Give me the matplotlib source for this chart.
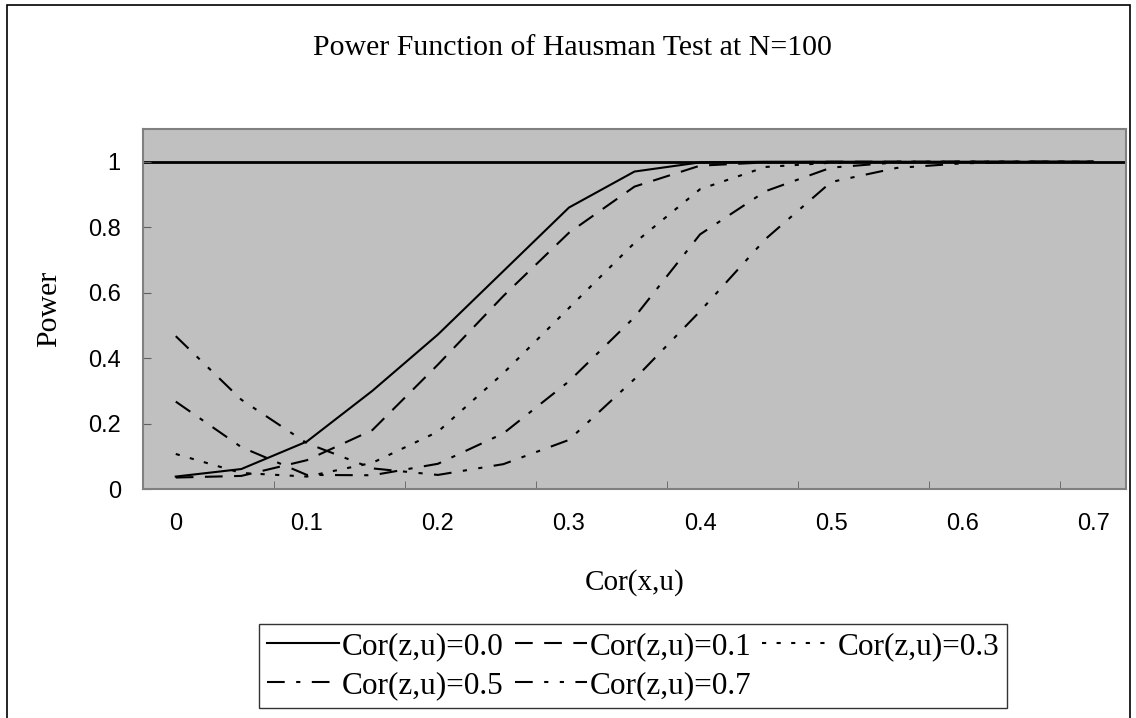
import matplotlib
matplotlib.use("Agg")
import matplotlib.pyplot as plt
from matplotlib.patches import Rectangle

# Cor(x,u) grid and simulated power for each Cor(z,u)
cor_xu = [0.0, 0.05, 0.1, 0.15, 0.2, 0.25, 0.3, 0.35, 0.4, 0.45, 0.5, 0.55, 0.6, 0.65, 0.7]
power_00 = [0.038, 0.061, 0.145, 0.300, 0.472, 0.666, 0.860, 0.970, 0.998, 1.0, 1.0, 1.0, 1.0, 1.0, 1.0]
power_01 = [0.035, 0.040, 0.088, 0.180, 0.380, 0.590, 0.783, 0.924, 0.988, 0.998, 1.0, 1.0, 1.0, 1.0, 1.0]
power_03 = [0.107, 0.049, 0.038, 0.080, 0.175, 0.354, 0.553, 0.752, 0.916, 0.984, 0.997, 1.0, 1.0, 1.0, 1.0]
power_05 = [0.267, 0.128, 0.043, 0.042, 0.077, 0.170, 0.329, 0.525, 0.778, 0.910, 0.982, 0.998, 1.0, 1.0, 1.0]
power_07 = [0.467, 0.273, 0.140, 0.063, 0.043, 0.076, 0.150, 0.336, 0.543, 0.764, 0.938, 0.981, 0.995, 1.0, 1.0]

series_labels = ["Cor(z,u)=0.0", "Cor(z,u)=0.1", "Cor(z,u)=0.3", "Cor(z,u)=0.5", "Cor(z,u)=0.7"]
x_ticklabels = ["0", "0.1", "0.2", "0.3", "0.4", "0.5", "0.6", "0.7"]
y_ticklabels = ["0", "0.2", "0.4", "0.6", "0.8", "1"]

SERIF = "Liberation Serif"
SANS = "Liberation Sans"

styles = [
    "-",
    (0, (8.5, 5.5)),
    (0, (2, 5)),
    (0, (8.5, 5.5, 2, 5.5)),
    (0, (8.5, 5.5, 2, 5.5, 2, 5.5)),
]

fig = plt.figure(figsize=(11.36, 7.18), dpi=100)
ax = fig.add_axes([143 / 1136, 1 - 489 / 718, 983 / 1136, 360 / 718])
ax.set_facecolor("#C0C0C0")

ax.axhline(1.0, color="black", lw=2, zorder=1)

handles = []
all_power = [power_00, power_01, power_03, power_05, power_07]
for vals, ls, lab in zip(all_power, styles, series_labels):
    (h,) = ax.plot(cor_xu, vals, color="black", lw=1.5, linestyle=ls, label=lab, zorder=2)
    handles.append(h)

ax.set_xlim(-0.025, 0.725)
ax.set_ylim(0, 1.1)

ax.set_xticks([i / 10 for i in range(8)])
ax.set_xticklabels(x_ticklabels, fontfamily=SANS, fontsize=17)
ax.set_xticks([0.075 + i / 10 for i in range(7)], minor=True)
ax.tick_params(axis="x", which="major", length=0, pad=17)
ax.tick_params(axis="x", which="minor", direction="in", length=6, color="#606060")

ax.set_yticks([i / 5 for i in range(6)])
ax.set_yticklabels(y_ticklabels, fontfamily=SANS, fontsize=17)
ax.tick_params(axis="y", direction="in", length=6, color="#606060", pad=16)

for s in ax.spines.values():
    s.set_color("#808080")
    s.set_linewidth(1.5)

ax.set_xlabel("Cor(x,u)", fontfamily=SERIF, fontsize=21, va="center")
ax.xaxis.set_label_coords(0.5, (489 - 583) / 360)
ax.set_ylabel("Power", fontfamily=SERIF, fontsize=21.5, va="center")
ax.yaxis.set_label_coords((49 - 143) / 983, 0.5)

fig.text(572 / 1136, 1 - 48 / 718, "Power Function of Hausman Test at N=100",
         ha="center", va="center", fontfamily=SERIF, fontsize=21.5)

# row-wise legend order with 3 columns
order = [0, 3, 1, 4, 2]
leg = fig.legend([handles[i] for i in order], [series_labels[i] for i in order],
                 ncol=3, loc="center", bbox_to_anchor=(633 / 1136, 1 - 666 / 718),
                 prop={"family": SERIF, "size": 22.5}, frameon=True, fancybox=False,
                 handlelength=2.3, handletextpad=0.1, columnspacing=0.35,
                 labelspacing=0.32, borderpad=0.25, borderaxespad=0)
leg.get_frame().set_edgecolor("black")
leg.get_frame().set_linewidth(1.0)

fig.patches.append(Rectangle((7 / 1136, -0.1), (1130 - 7) / 1136, 1.1 - 5 / 718,
                             transform=fig.transFigure, fill=False, edgecolor="black", lw=1.2))

fig.savefig("out.png", dpi=100)
